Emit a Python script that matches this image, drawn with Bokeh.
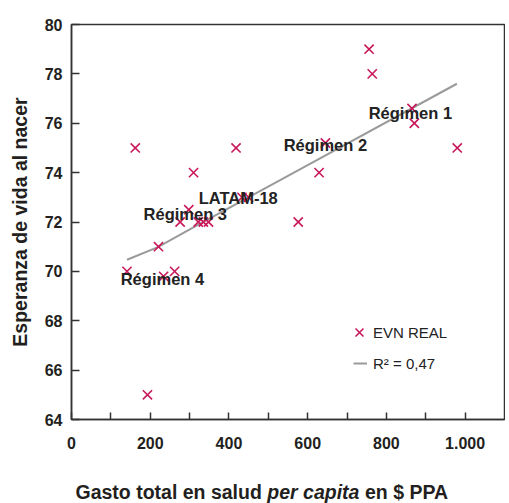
from bokeh.plotting import figure
from bokeh.models import (Range1d, FixedTicker, Legend, LegendItem, ColumnDataSource)
from bokeh.layouts import column
from bokeh.core.properties import value
from bokeh.embed import file_html
from bokeh.resources import INLINE

# ---- data ----
gasto = [141, 162, 193, 221, 234, 262, 276, 298, 310, 322, 335, 348, 418, 433, 450,
         576, 629, 645, 756, 764, 865, 871, 980]
evn = [70.0, 75.0, 65.0, 71.0, 69.8, 70.0, 72.0, 72.5, 74.0, 72.0, 72.0, 72.0, 75.0,
       73.0, 73.0, 72.0, 74.0, 75.2, 79.0, 78.0, 76.6, 76.0, 75.0]
trend_x = [141, 218, 327, 607, 979]
trend_y = [70.47, 70.97, 71.93, 74.36, 77.6]
group_names = ["Régimen 1", "Régimen 2", "LATAM-18", "Régimen 3", "Régimen 4"]
x_ticks = [0, 100, 200, 300, 400, 500, 600, 700, 800, 900, 1000]
x_tick_labels = {0: "0", 200: "200", 400: "400", 600: "600", 800: "800", 1000: "1.000"}
y_ticks = [64, 66, 68, 70, 72, 74, 76, 78, 80]
legend_labels = ["EVN REAL", "R² = 0,47"]
y_title = "Esperanza de vida al nacer"
x_title_parts = ["Gasto total en salud", "per capita", "en $ PPA"]

# ---- layout / style ----
group_label_x = [755, 539, 323, 183, 125]
group_label_y = [76.43, 75.10, 72.99, 72.34, 69.71]
x_title_part_pos = [75, 266.8, 364.5]
x_title_part_style = ["bold", "bold italic", "bold"]

FONT = "Liberation Sans"
DARK = "#231f20"
AXC = "#333333"
MARK = "#c8185a"

p = figure(width=505, height=453, output_backend="svg", toolbar_location=None,
           x_range=Range1d(0, 1100), y_range=Range1d(64, 80),
           min_border_left=71, min_border_right=1, min_border_top=24, min_border_bottom=34)
p.background_fill_color = None
p.border_fill_color = None
p.xgrid.visible = False
p.ygrid.visible = False
p.outline_line_color = AXC
p.outline_line_width = 1.5

for ax in (p.xaxis[0], p.yaxis[0]):
    ax.axis_line_color = AXC
    ax.axis_line_width = 1.5
    ax.major_tick_line_color = AXC
    ax.major_tick_line_width = 1.5
    ax.major_tick_out = 0
    ax.minor_tick_line_color = None
    ax.major_label_text_font = FONT
    ax.major_label_text_font_style = "bold"
    ax.major_label_text_font_size = "16px"
    ax.major_label_text_color = DARK

p.xaxis.ticker = FixedTicker(ticks=x_ticks)
p.xaxis.major_label_overrides = {t: x_tick_labels.get(t, "") for t in x_ticks}
p.xaxis.major_tick_in = 7
p.xaxis.major_label_standoff = 17
p.yaxis.ticker = FixedTicker(ticks=y_ticks)
p.yaxis.major_tick_in = 8
p.yaxis.major_label_standoff = 9
p.yaxis.axis_label = y_title
p.yaxis.axis_label_text_font = FONT
p.yaxis.axis_label_text_font_style = "bold"
p.yaxis.axis_label_text_font_size = "19.5px"
p.yaxis.axis_label_text_color = DARK
p.yaxis.axis_label_standoff = 11

line_r = p.line(trend_x, trend_y, line_color="#9a9a9a", line_width=2)
pts = p.scatter(gasto, evn, marker="x", size=13, line_color=MARK, line_width=1.6)

src = ColumnDataSource(dict(x=group_label_x, y=group_label_y, t=group_names))
p.text(x="x", y="y", text="t", source=src, text_font=value(FONT), text_font_style="bold",
       text_font_size="16.5px", text_color="#222222", text_baseline="middle", text_align="left")

common = dict(padding=0, margin=0, spacing=0, border_line_color=None, background_fill_alpha=0,
              label_text_font=FONT, label_text_font_size="15px", label_text_color="#222222")
leg1 = Legend(items=[LegendItem(label=legend_labels[0], renderers=[pts])],
              location=(274, 73), glyph_width=28, glyph_height=28, label_height=28,
              label_standoff=0, **common)
leg2 = Legend(items=[LegendItem(label=legend_labels[1], renderers=[line_r])],
              location=(282, 46), glyph_width=14, glyph_height=20, label_height=20,
              label_standoff=6, **common)
p.add_layout(leg1)
p.add_layout(leg2)

# x-axis title with mixed styles, in a strip below the chart (coordinates = page pixels)
p2 = figure(width=505, height=50, output_backend="svg", toolbar_location=None,
            x_range=Range1d(71, 504), y_range=Range1d(0, 50),
            min_border_left=71, min_border_right=1, min_border_top=0, min_border_bottom=0)
p2.axis.visible = False
p2.grid.visible = False
p2.outline_line_color = None
p2.background_fill_color = None
p2.border_fill_color = None
src2 = ColumnDataSource(dict(x=x_title_part_pos, y=[12, 12, 12], t=x_title_parts,
                             st=x_title_part_style))
p2.text(x="x", y="y", text="t", source=src2, text_font=value(FONT), text_font_style="st",
        text_font_size="19.5px", text_color=DARK, text_baseline="middle", text_align="left")

layout = column(p, p2, spacing=0)
open("out.html", "w").write(file_html(layout, INLINE))
